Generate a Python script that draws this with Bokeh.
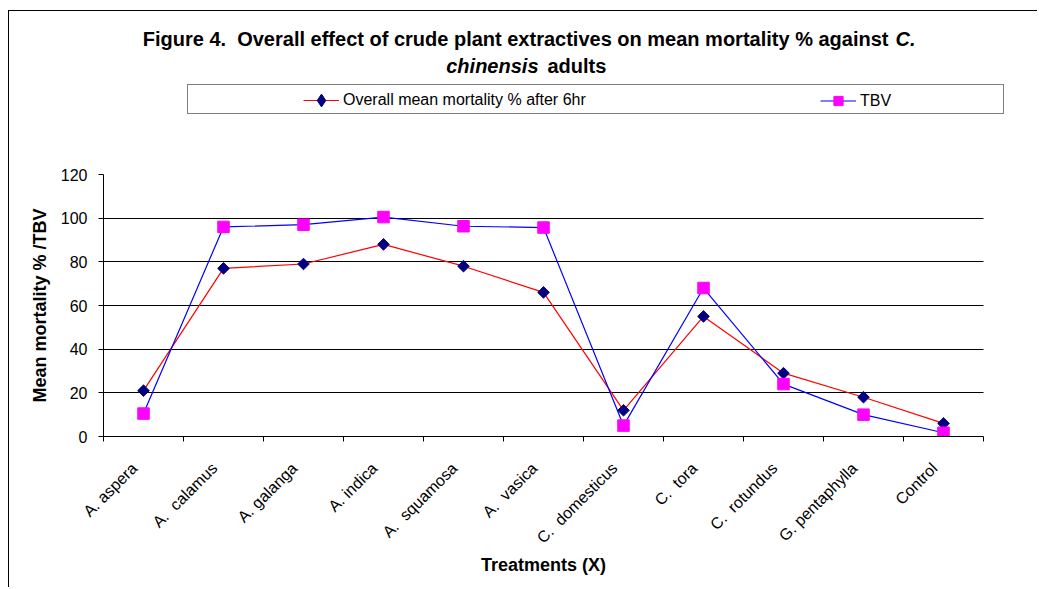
import math
import numpy as np
from bokeh.plotting import figure
from bokeh.layouts import row, column
from bokeh.models import Range1d, FixedTicker, Legend, LegendItem, Label, Spacer
from bokeh.embed import file_html
from bokeh.resources import INLINE

# ---------------- data ----------------
categories = ["A. aspera", "A.\u00a0 calamus", "A. galanga", "A. indica",
              "A.\u00a0 squamosa", "A.\u00a0 vasica", "C.\u00a0 domesticus",
              "C.\u00a0 tora", "C.\u00a0 rotundus", "G. pentaphylla", "Control"]
mortality = [21, 77, 79, 88, 78, 66, 12, 55, 29, 18, 6]
tbv = [10.5, 96, 97, 100.5, 96.3, 95.7, 5, 68, 24, 10, 1.7]
y_ticks = [0, 20, 40, 60, 80, 100, 120]
series_names = ["Overall mean mortality % after 6hr", "TBV"]
title_parts = ["Figure 4.\u00a0 Overall effect of crude plant extractives on mean mortality % against",
               "C.", "chinensis", "adults"]
x_title = "Treatments (X)"
y_title = "Mean mortality % /TBV"

FONT = "Liberation Sans"
FIG_W = 1029
HEAD_H = 150
MAIN_H = 427
FL = 94
X_PX = 80.0
n = len(categories)
xs = np.arange(n) + 0.5
label_pos = xs - 9 / X_PX
x_end = (FIG_W - FL) / X_PX

RED, BLUE, NAVY, MAGENTA = "#FF0000", "#0000FF", "#000080", "#FF00FF"

# ================= main plot =================
p = figure(width=FIG_W, height=MAIN_H, output_backend="svg", toolbar_location=None,
           x_range=Range1d(0, x_end), y_range=Range1d(0, 120),
           min_border_left=FL, min_border_right=0,
           min_border_top=14, min_border_bottom=151,
           background_fill_color="white", border_fill_color="white")
p.styles = {"border-left": "1px solid black"}
p.outline_line_color = None
p.xgrid.grid_line_color = None
p.ygrid.ticker = FixedTicker(ticks=y_ticks)
p.ygrid.grid_line_color = "black"
p.ygrid.grid_line_width = 1
p.ygrid.cross_bounds = (0, n)

yax = p.yaxis[0]
yax.ticker = FixedTicker(ticks=y_ticks)
yax.axis_line_color = "black"
yax.major_tick_line_color = "black"
yax.major_tick_in = 0
yax.major_tick_out = 5
yax.minor_tick_line_color = None
yax.major_label_text_font = FONT
yax.major_label_text_font_size = "16px"
yax.major_label_text_color = "black"
yax.major_label_standoff = 11
yax.axis_label = y_title
yax.axis_label_text_font = FONT
yax.axis_label_text_font_size = "18px"
yax.axis_label_text_font_style = "bold"
yax.axis_label_text_color = "black"
yax.axis_label_standoff = 8

xax = p.xaxis[0]
xax.bounds = (0, n)
xax.ticker = FixedTicker(ticks=list(label_pos), minor_ticks=list(range(n + 1)))
xax.major_label_overrides = {float(v): c for v, c in zip(label_pos, categories)}
xax.axis_line_color = "black"
xax.major_tick_in = 0
xax.major_tick_out = 0
xax.major_tick_line_color = None
xax.minor_tick_in = 0
xax.minor_tick_out = 5
xax.minor_tick_line_color = "black"
xax.major_label_orientation = math.pi / 4
xax.major_label_text_font = FONT
xax.major_label_text_font_size = "16px"
xax.major_label_text_color = "black"
xax.major_label_standoff = 24
# the axis title is centred on the frame; trailing no-break spaces move it
# back over the centre of the category span
xax.axis_label = x_title + "\u00a0" * 11
xax.axis_label_text_font = FONT
xax.axis_label_text_font_size = "18px"
xax.axis_label_text_font_style = "bold"
xax.axis_label_text_color = "black"
xax.axis_label_standoff = 0

p.line(xs, mortality, line_color=RED, line_width=1.2)
p.line(xs, tbv, line_color=BLUE, line_width=1.2)
p.scatter(xs, mortality, marker="square", angle=math.pi / 4, size=8.2,
          fill_color=NAVY, line_color=NAVY)
p.scatter(xs, tbv, marker="square", size=11.5, fill_color=MAGENTA, line_color=MAGENTA)

# ================= header: title + legend =================
h = figure(width=FIG_W, height=HEAD_H, output_backend="svg", toolbar_location=None,
           x_range=Range1d(FL, FIG_W), y_range=Range1d(HEAD_H, 0),
           x_axis_location=None, y_axis_location=None,
           min_border_left=FL, min_border_right=0, min_border_top=0, min_border_bottom=0,
           background_fill_color="white", border_fill_color="white")
h.styles = {"border-left": "1px solid black", "border-top": "1px solid black"}
h.outline_line_color = None
h.grid.visible = False
# series drawn on an out-of-view range: they only supply the legend samples
h.extra_x_ranges = {"off": Range1d(-1000, -900)}
h.extra_y_ranges = {"off": Range1d(-1000, -900)}
off = dict(x_range_name="off", y_range_name="off")
hl1 = h.line(xs, mortality, line_color=RED, line_width=1.2, **off)
hk1 = h.scatter(xs, mortality, marker="diamond", fill_color=NAVY, line_color=NAVY, **off)
hl2 = h.line(xs, tbv, line_color=BLUE, line_width=1.2, **off)
hk2 = h.scatter(xs, tbv, marker="square", fill_color=MAGENTA, line_color=MAGENTA, **off)
hdummy = h.scatter(xs, tbv, size=0, fill_alpha=0, line_alpha=0, **off)

box = Legend(items=[LegendItem(label=" ", renderers=[hdummy])],
             location=(178 - FL, 47), orientation="horizontal", padding=0, margin=0,
             spacing=0, glyph_width=1, glyph_height=28, label_width=814,
             label_height=28, label_standoff=0,
             border_line_color="black", border_line_width=1,
             background_fill_color="white", background_fill_alpha=1)
leg1 = Legend(items=[LegendItem(label=series_names[0], renderers=[hl1, hk1])],
              location=(294 - FL, 45), orientation="horizontal", padding=0, margin=0,
              glyph_width=36, glyph_height=32, label_height=32, label_standoff=4,
              label_text_font=FONT, label_text_font_size="16px",
              label_text_color="black",
              border_line_color=None, background_fill_alpha=0)
leg2 = Legend(items=[LegendItem(label=series_names[1], renderers=[hl2, hk2])],
              location=(811 - FL, 49), orientation="horizontal", padding=0, margin=0,
              glyph_width=36, glyph_height=23, label_height=23, label_standoff=4,
              label_text_font=FONT, label_text_font_size="16px",
              label_text_color="black",
              border_line_color=None, background_fill_alpha=0)
for lg in (box, leg1, leg2):
    h.add_layout(lg, "center")

tstyle = dict(text_font=FONT, text_font_size="20px", text_color="black",
              text_baseline="alphabetic")
h.add_layout(Label(x=879, y=27.7, text_align="right", text_font_style="bold",
                   text=title_parts[0], **tstyle))
h.add_layout(Label(x=886, y=27.7, text_align="left", text_font_style="bold italic",
                   text=title_parts[1], **tstyle))
h.add_layout(Label(x=529, y=54, text_align="right", text_font_style="bold italic",
                   text=title_parts[2], **tstyle))
h.add_layout(Label(x=538, y=54, text_align="left", text_font_style="bold",
                   text=title_parts[3], **tstyle))

root = column(Spacer(height=10), row(Spacer(width=8), column(h, p)))
open("out.html", "w").write(file_html(root, INLINE))
